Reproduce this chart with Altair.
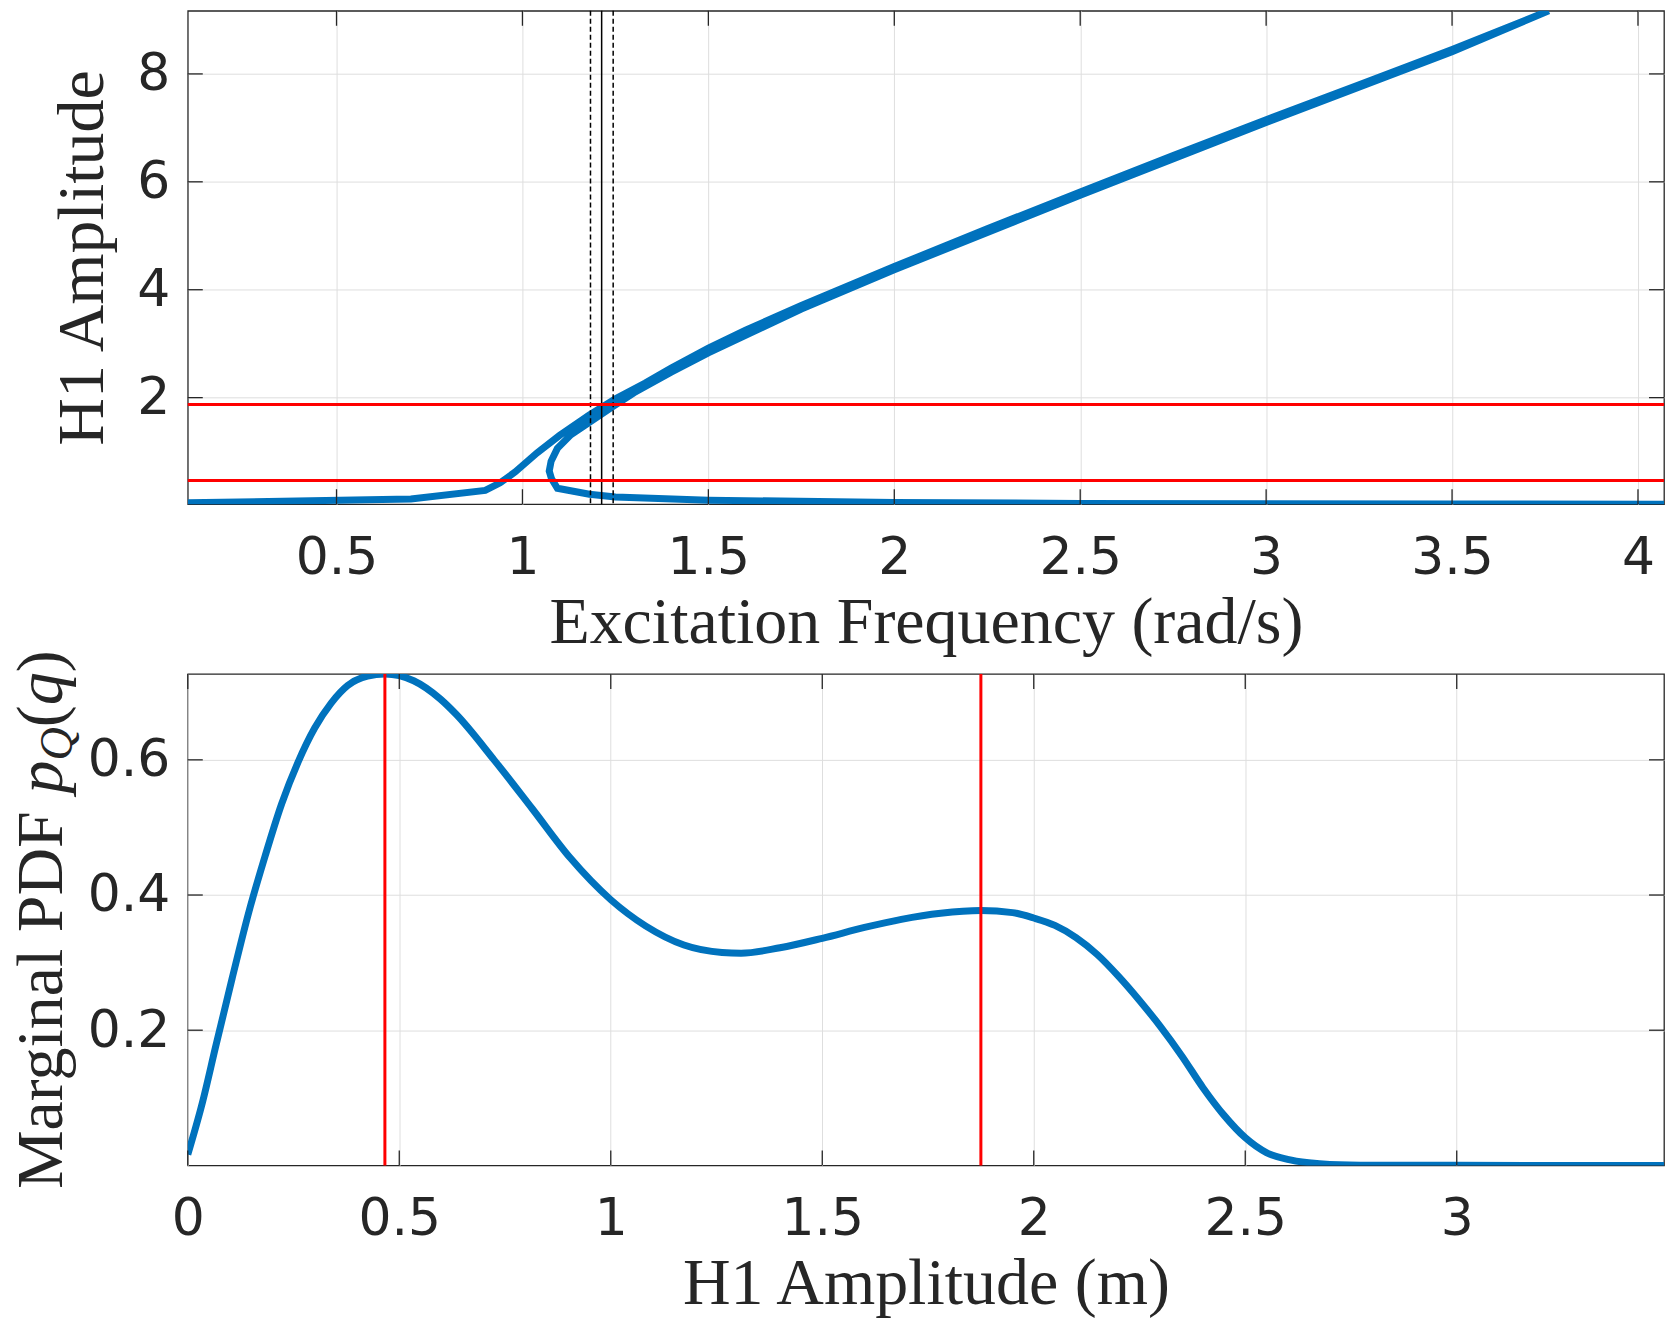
import altair as alt
import pandas as pd

# ---------------- top panel: frequency response (continuation order) ----------------
freq = [0.10, 0.70, 0.90, 0.94, 0.98, 1.04, 1.10, 1.18, 1.25, 1.33, 1.40, 1.50, 1.60, 1.75,
        2.00, 2.25, 2.50, 2.75, 3.00, 3.25, 3.50, 3.76,
        3.50, 3.00, 2.50, 2.00, 1.75, 1.50, 1.40, 1.30, 1.24, 1.18, 1.13, 1.094, 1.077, 1.072,
        1.078, 1.094,
        1.18, 1.25, 1.50, 2.00, 2.50, 3.00, 3.50, 4.07]
amp = [0.05, 0.12, 0.28, 0.42, 0.62, 0.98, 1.30, 1.68, 1.98, 2.27, 2.55, 2.92, 3.25, 3.71,
       4.43, 5.13, 5.81, 6.49, 7.15, 7.80, 8.45, 9.17,
       8.41, 7.10, 5.75, 4.37, 3.64, 2.83, 2.47, 2.09, 1.82, 1.54, 1.31, 1.06, 0.82, 0.64,
       0.50, 0.32,
       0.21, 0.16, 0.10, 0.055, 0.04, 0.033, 0.028, 0.025]
red_levels = [0.466, 1.875]
dashed_freqs = [1.183, 1.244]
solid_freqs = [1.213]
freq_ticks = [0.5, 1, 1.5, 2, 2.5, 3, 3.5, 4]
amp_ticks = [2, 4, 6, 8]

# ---------------- bottom panel: marginal PDF ----------------
q_amp = [0.0, 0.035, 0.066, 0.105, 0.144, 0.183, 0.222, 0.261, 0.300, 0.339, 0.378, 0.425,
         0.466, 0.534, 0.597, 0.635, 0.724, 0.814, 0.904, 1.0, 1.083, 1.173, 1.263, 1.308,
         1.40, 1.50, 1.60, 1.687, 1.78, 1.875, 1.95, 2.0, 2.05, 2.10, 2.15, 2.20, 2.25, 2.30,
         2.35, 2.40, 2.45, 2.50, 2.55, 2.60, 2.65, 2.70, 2.80, 3.0, 3.2, 3.49]
pdf = [0.016, 0.094, 0.176, 0.277, 0.374, 0.458, 0.535, 0.597, 0.647, 0.684, 0.710, 0.724,
       0.727, 0.717, 0.690, 0.667, 0.600, 0.528, 0.455, 0.393, 0.354, 0.326, 0.315, 0.314,
       0.322, 0.336, 0.352, 0.364, 0.373, 0.377, 0.374, 0.366, 0.355, 0.337, 0.312, 0.280,
       0.244, 0.205, 0.162, 0.115, 0.074, 0.041, 0.019, 0.009, 0.004, 0.0015, 0.0004,
       0.0001, 0.0, 0.0]
peak_amps = [0.466, 1.875]
q_ticks = [0, 0.5, 1, 1.5, 2, 2.5, 3]
pdf_ticks = [0.2, 0.4, 0.6]

# ---------------- styling ----------------
W = 1478
H_TOP = 494
H_BOT = 492
SPACING = 170
TICK = 15
BLUE = "#0072BD"
RED = "#FF0000"
AX = "#262626"
TITLE_FONT = "Liberation Serif"
TITLE_SIZE = 66
LABEL_SIZE = 52

df_frf = pd.DataFrame({"freq": freq, "amp": amp, "i": list(range(len(freq)))})
df_pdf = pd.DataFrame({"q": q_amp, "p": pdf})

xs_top = alt.Scale(domain=[0.1, 4.07], nice=False, zero=False)
ys_top = alt.Scale(domain=[0.025, 9.17], nice=False, zero=False)
xs_bot = alt.Scale(domain=[0, 3.49], nice=False, zero=False)
ys_bot = alt.Scale(domain=[0, 0.727], nice=False, zero=False)


def inward_ticks(xvals, yvals, xscale, yscale, h):
    dx = pd.DataFrame({"v": xvals})
    dy = pd.DataFrame({"v": yvals})
    base_x = alt.Chart(dx).mark_rule(color=AX, strokeWidth=1.3)
    base_y = alt.Chart(dy).mark_rule(color=AX, strokeWidth=1.3)
    return [
        base_x.encode(x=alt.X("v:Q", scale=xscale), y=alt.value(h), y2=alt.value(h - TICK)),
        base_x.encode(x=alt.X("v:Q", scale=xscale), y=alt.value(0), y2=alt.value(TICK)),
        base_y.encode(y=alt.Y("v:Q", scale=yscale), x=alt.value(0), x2=alt.value(TICK)),
        base_y.encode(y=alt.Y("v:Q", scale=yscale), x=alt.value(W), x2=alt.value(W - TICK)),
    ]


# ---------------- top chart ----------------
frf_line = alt.Chart(df_frf).mark_line(color=BLUE, strokeWidth=7, clip=True).encode(
    x=alt.X("freq:Q", scale=xs_top,
            axis=alt.Axis(values=freq_ticks, format="~g", title="Excitation Frequency (rad/s)",
                          titleX=W / 2, titleY=138, titleBaseline="alphabetic",
                          labelFlush=False, labelPadding=28)),
    y=alt.Y("amp:Q", scale=ys_top,
            axis=alt.Axis(values=amp_ticks, format="~g", title="H1 Amplitude",
                          titleX=-85, titleY=H_TOP / 2, titleAngle=270,
                          titleBaseline="alphabetic", titleAlign="center",
                          labelFlush=False, labelPadding=18)),
    order=alt.Order("i:Q"),
)
dash_rules = alt.Chart(pd.DataFrame({"f": dashed_freqs})).mark_rule(
    color="black", strokeWidth=1.5, strokeDash=[5, 3]).encode(x=alt.X("f:Q", scale=xs_top))
solid_rules = alt.Chart(pd.DataFrame({"f": solid_freqs})).mark_rule(
    color="black", strokeWidth=1.5).encode(x=alt.X("f:Q", scale=xs_top))
red_h = alt.Chart(pd.DataFrame({"a": red_levels})).mark_rule(
    color=RED, strokeWidth=3).encode(y=alt.Y("a:Q", scale=ys_top))

top = alt.layer(frf_line, dash_rules, solid_rules, red_h,
                *inward_ticks(freq_ticks, amp_ticks, xs_top, ys_top, H_TOP)).properties(
    width=W, height=H_TOP)

# ---------------- bottom chart ----------------
pdf_line = alt.Chart(df_pdf).mark_line(color=BLUE, strokeWidth=7, clip=True,
                                       interpolate="monotone").encode(
    x=alt.X("q:Q", scale=xs_bot,
            axis=alt.Axis(values=q_ticks, format="~g", title="H1 Amplitude (m)",
                          titleX=W / 2, titleY=138, titleBaseline="alphabetic",
                          labelFlush=False, labelPadding=28)),
    y=alt.Y("p:Q", scale=ys_bot,
            axis=alt.Axis(values=pdf_ticks, format="~g", title=None,
                          labelFlush=False, labelPadding=18)),
)
red_v = alt.Chart(pd.DataFrame({"m": peak_amps})).mark_rule(
    color=RED, strokeWidth=3).encode(x=alt.X("m:Q", scale=xs_bot))

# y title "Marginal PDF p_Q(q)" assembled from text pieces (rotated)
fs = TITLE_SIZE
sub = 0.7 * fs
pieces = [  # text, italic, size, advance width
    ("Marginal PDF", False, fs, 6.0 * fs),
    ("p", True, fs, 0.5 * fs),
    ("Q", True, sub, 0.722 * sub),
    ("(", False, fs, 0.333 * fs),
    ("q", True, fs, 0.5 * fs),
    (")", False, fs, 0.333 * fs),
]
total = sum(p[3] for p in pieces)
pos = H_BOT / 2 + total / 2
title_x = -126
title_layers = []
for txt, ital, size, adv in pieces:
    title_layers.append(
        alt.Chart(pd.DataFrame({"t": [txt]})).mark_text(
            font=TITLE_FONT, fontSize=size, fontStyle="italic" if ital else "normal",
            angle=270, align="left", baseline="alphabetic", color=AX,
        ).encode(x=alt.value(title_x + (10 if size < fs else 0)), y=alt.value(pos),
                 text="t:N")
    )
    pos -= adv

bottom = alt.layer(pdf_line, red_v, *inward_ticks(q_ticks, pdf_ticks, xs_bot, ys_bot, H_BOT),
                   *title_layers).properties(width=W, height=H_BOT)

chart = alt.vconcat(top, bottom, spacing=SPACING, bounds="flush").properties(
    padding=0, background="white"
).configure_view(stroke=AX, strokeWidth=1.3).configure_axis(
    labelFont="DejaVu Sans", labelFontSize=LABEL_SIZE, labelColor=AX,
    titleFont=TITLE_FONT, titleFontSize=TITLE_SIZE, titleFontWeight="normal", titleColor=AX,
    gridColor="#dedede", gridWidth=1, domain=False, ticks=False,
)

chart.save("out.html", embed_options={"renderer": "svg", "actions": False})
